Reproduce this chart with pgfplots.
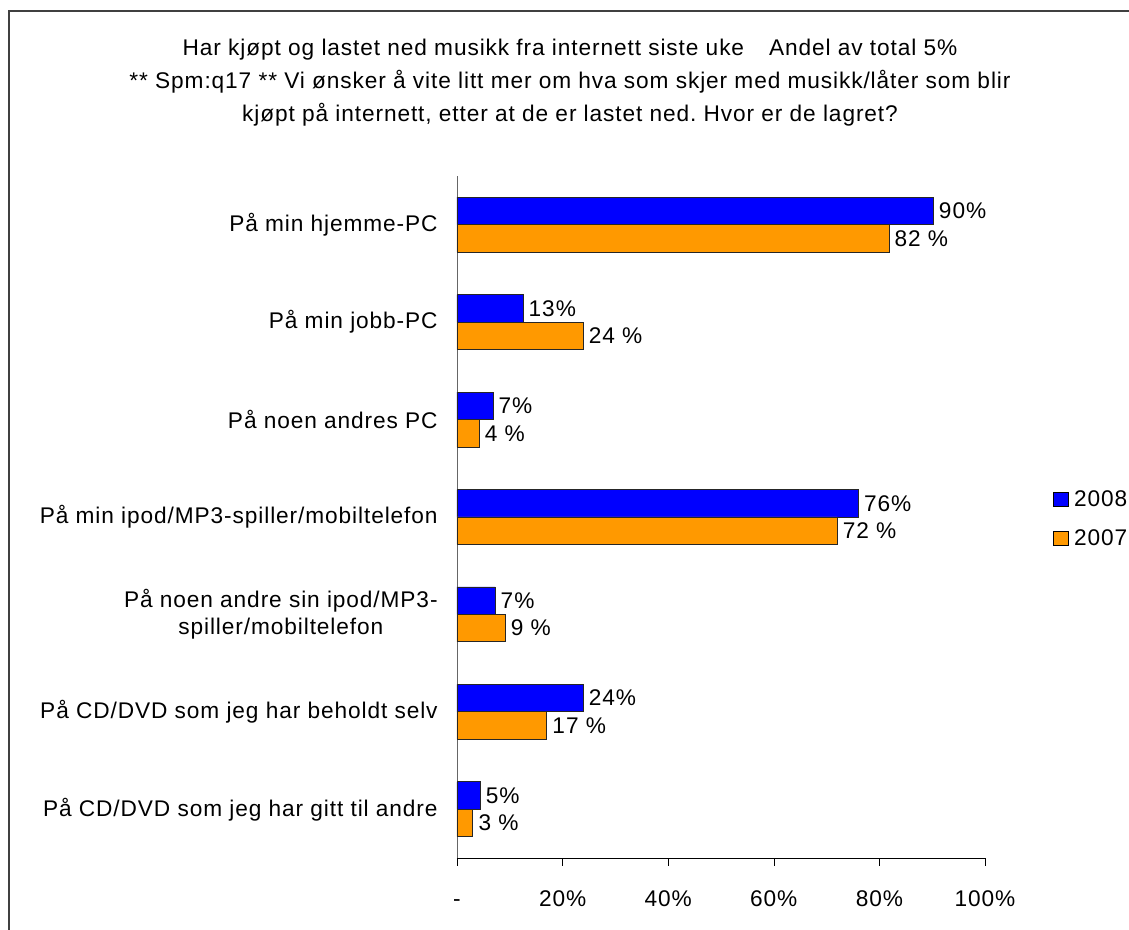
\documentclass[border=0pt]{standalone}
\usepackage{fontspec}
\setmainfont{Liberation Sans}[LetterSpace=4]
\usepackage{pgfplots}
\pgfplotsset{compat=1.18}
\definecolor{barblue}{RGB}{0,0,255}
\definecolor{barorange}{RGB}{255,153,0}
\newcommand{\chartfont}{\fontsize{17}{20}\selectfont}
\frenchspacing
\begin{document}
\begin{tikzpicture}
\path[use as bounding box] (0pt,0pt) rectangle (846.75pt,697.5pt);
\clip (0pt,0pt) rectangle (846.75pt,697.5pt);
\draw[line width=1pt, black!75] (6.75pt,-5pt) -- (6.75pt,689.25pt) -- (860pt,689.25pt);
\node[align=center, font=\fontsize{17}{24.75}\selectfont] at (427.5pt,635.5pt)
  {Har kjøpt og lastet ned musikk fra internett siste uke\hspace{1.1em}Andel av total 5\%\\
   ** Spm:q17 ** Vi ønsker å vite litt mer om hva som skjer med musikk/låter som blir\\
   kjøpt på internett, etter at de er lastet ned. Hvor er de lagret?};
\begin{axis}[
  at={(342.75pt,54pt)}, anchor=south west,
  scale only axis, width=396pt, height=511.5pt,
  xbar, bar width=20.6pt,
  xmin=0, xmax=100, ymin=-0.5, ymax=6.5,
  axis x line*=bottom, axis y line*=left,
  x axis line style={black,-}, y axis line style={black!60,-},
  tick align=outside,
  major tick length=6pt, minor tick length=6pt,
  xtick={0,20,40,60,80,100},
  xticklabels={\strut-,\strut20\%,\strut40\%,\strut60\%,\strut80\%,\strut100\%},
  x tick style={black},
  xticklabel style={font=\chartfont, yshift=-13pt},
  ytick={0,1,2,3,4,5,6},
  yticklabels={På CD/DVD som jeg har gitt til andre,
               På CD/DVD som jeg har beholdt selv,
               {På noen andre sin ipod/MP3-\\spiller/mobiltelefon},
               På min ipod/MP3-spiller/mobiltelefon,
               På noen andres PC,
               På min jobb-PC,
               På min hjemme-PC},
  ytick style={draw=none},
  minor ytick={-0.5,0.5,1.5,2.5,3.5,4.5,5.5,6.5},
  minor y tick style={black!60},
  yticklabel style={font=\chartfont, align=center, xshift=-5pt},
  nodes near coords,
  point meta=explicit symbolic,
  nodes near coords style={font=\chartfont, black, anchor=west, inner sep=2pt, xshift=2pt},
  clip=false,
  legend style={at={(1.1288,0.497)}, anchor=west, draw=none, fill=none,
    inner sep=0pt, row sep=12pt, font=\chartfont},
  legend cell align=left,
  legend image code/.code={\draw[#1,draw=black,line width=0.6pt] (0pt,-5.4pt) rectangle (11pt,5.4pt);},
]
\addplot[fill=barblue, draw=black!85, line width=0.6pt, bar shift=10.3pt] coordinates {
  (90.2,6) [90\%]
  (12.5,5) [13\%]
  (6.8,4)  [7\%]
  (76,3)   [76\%]
  (7.2,2)  [7\%]
  (23.9,1) [24\%]
  (4.4,0)  [5\%]
};
\addlegendentry{\hspace{2pt}2008}
\addplot[fill=barorange, draw=black!85, line width=0.6pt, bar shift=-10.3pt] coordinates {
  (81.8,6) [82 \%]
  (23.9,5) [24 \%]
  (4.2,4)  [4 \%]
  (72,3)   [72 \%]
  (9.1,2)  [9 \%]
  (17,1)   [17 \%]
  (3,0)    [3 \%]
};
\addlegendentry{\hspace{2pt}2007}
\end{axis}
\end{tikzpicture}
\end{document}
